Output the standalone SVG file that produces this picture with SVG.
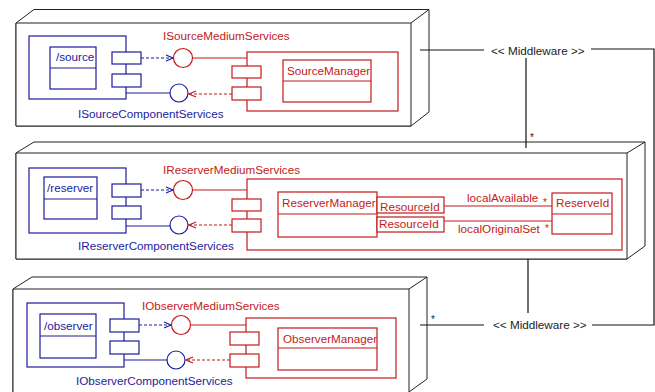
<svg xmlns="http://www.w3.org/2000/svg" width="655" height="392" viewBox="0 0 655 392">
<defs>
<style>
text{font-family:"Liberation Sans",Arial,sans-serif;font-size:11.7px}
.node{fill:#fff;stroke:#222;stroke-width:1}
.b{fill:none;stroke:#1c1c9c;stroke-width:1.2}
.bf{fill:#fff;stroke:#1c1c9c;stroke-width:1.2}
.r{fill:none;stroke:#c41a1a;stroke-width:1.2}
.rf{fill:#fff;stroke:#c41a1a;stroke-width:1.2}
.bd{fill:none;stroke:#1c1c9c;stroke-width:1.2;stroke-dasharray:3,2}
.rd{fill:none;stroke:#c41a1a;stroke-width:1.2;stroke-dasharray:3,2}
.bt{fill:#1c1c9c}
.rt{fill:#c41a1a}
.kt{fill:#222}
.ln{fill:none;stroke:#111;stroke-width:1.2}
</style>
<marker id="ab" markerWidth="10" markerHeight="10" refX="8" refY="4" orient="auto" markerUnits="userSpaceOnUse"><path d="M1,1 L8,4 L1,7" fill="none" stroke="#1c1c9c" stroke-width="1.2"/></marker>
<marker id="ar" markerWidth="10" markerHeight="10" refX="8" refY="4" orient="auto" markerUnits="userSpaceOnUse"><path d="M1,1 L8,4 L1,7" fill="none" stroke="#c41a1a" stroke-width="1.2"/></marker>
</defs>

<g id="node-source">
<path class="node" d="M16,23 L34,9.5 H429 V112 L411,126 H16 Z"/>
<path class="node" d="M16,23 H411 V126 H16 Z"/>
<path class="node" d="M411,23 L429,9.5"/>
<g id="comp-source">
<rect class="bf" x="29" y="36" width="97" height="63"/>
<rect class="bf" x="50" y="47" width="46" height="42"/>
<path class="b" d="M50,68 H96"/>
<text class="bt" x="56" y="61">/source</text>
<rect class="bf" x="112" y="52" width="29" height="12"/>
<rect class="bf" x="112" y="74" width="29" height="13"/>
<path class="b" d="M126,93 H170"/>
<circle class="bf" cx="179" cy="93" r="9"/>
<path class="bd" d="M141,58 H173" marker-end="url(#ab)"/>
</g>
<g id="comp-sourcemanager">
<rect class="rf" x="247" y="52" width="151" height="59"/>
<path class="r" d="M192,58 H247"/>
<circle class="rf" cx="183" cy="58" r="9.5"/>
<rect class="rf" x="232" y="66" width="29" height="12"/>
<rect class="rf" x="232" y="87" width="29" height="13"/>
<path class="rd" d="M232,94 H189" marker-end="url(#ar)"/>
<rect class="rf" x="283" y="60" width="88" height="42"/>
<path class="r" d="M283,81 H371"/>
<text class="rt" x="287" y="75">SourceManager</text>
</g>
<text class="rt" x="163" y="40">ISourceMediumServices</text>
<text class="bt" x="78" y="118">ISourceComponentServices</text>
</g>

<g id="node-reserver">
<path class="node" d="M16,153 L34,142 H645 V246 L627,259 H16 Z"/>
<path class="node" d="M16,153 H627 V259 H16 Z"/>
<path class="node" d="M627,153 L645,142"/>
<g id="comp-reserver">
<rect class="bf" x="29" y="168" width="97" height="65"/>
<rect class="bf" x="44" y="177" width="53" height="42"/>
<path class="b" d="M44,199 H97"/>
<text class="bt" x="47" y="192">/reserver</text>
<rect class="bf" x="112" y="184" width="29" height="13"/>
<rect class="bf" x="112" y="206" width="29" height="13"/>
<path class="b" d="M126,226 H170"/>
<circle class="bf" cx="179" cy="225" r="9"/>
<path class="bd" d="M141,190 H173" marker-end="url(#ab)"/>
</g>
<g id="comp-reservermanager">
<rect class="rf" x="247" y="179" width="375" height="71"/>
<path class="r" d="M192,190 H247"/>
<circle class="rf" cx="183" cy="190" r="9.5"/>
<rect class="rf" x="232" y="199" width="29" height="12"/>
<rect class="rf" x="232" y="219" width="29" height="13"/>
<path class="rd" d="M232,225 H189" marker-end="url(#ar)"/>
<rect class="rf" x="278" y="192" width="99" height="45"/>
<path class="r" d="M278,214 H377"/>
<text class="rt" x="282" y="207">ReserverManager</text>
<rect class="rf" x="377" y="197" width="67" height="16"/>
<rect class="rf" x="377" y="217" width="67" height="15"/>
<text class="rt" x="380" y="211">ResourceId</text>
<text class="rt" x="379" y="228">ResourceId</text>
<path class="r" d="M444,206 H552"/>
<path class="r" d="M444,221 H552"/>
<rect class="rf" x="552" y="193" width="60" height="41"/>
<path class="r" d="M552,214 H612"/>
<text class="rt" x="556" y="207">ReserveId</text>
<text class="rt" x="467" y="202">localAvailable</text>
<text class="rt" x="458" y="233">localOriginalSet</text>
<text class="rt" x="543" y="206" style="font-size:10px">*</text>
<text class="rt" x="545" y="232" style="font-size:10px">*</text>
</g>
<text class="rt" x="163" y="174">IReserverMediumServices</text>
<text class="bt" x="78" y="250">IReserverComponentServices</text>
</g>

<g id="node-observer">
<path class="node" d="M13,289 L32,277 H427 V379 L409,392 V400 H13 Z"/>
<path class="node" d="M13,289 H409 V400 H13 Z"/>
<path class="node" d="M409,289 L427,277"/>
<g id="comp-observer">
<rect class="bf" x="27" y="303" width="97" height="64"/>
<rect class="bf" x="40" y="314" width="56" height="44"/>
<path class="b" d="M40,336 H96"/>
<text class="bt" x="44" y="330">/observer</text>
<rect class="bf" x="110" y="319" width="29" height="13"/>
<rect class="bf" x="110" y="341" width="29" height="13"/>
<path class="b" d="M124,360 H167"/>
<circle class="bf" cx="176" cy="360" r="9"/>
<path class="bd" d="M139,325 H171" marker-end="url(#ab)"/>
</g>
<g id="comp-observermanager">
<rect class="rf" x="246" y="318" width="150" height="60"/>
<path class="r" d="M191,325 H246"/>
<circle class="rf" cx="181" cy="325" r="9.5"/>
<rect class="rf" x="230" y="332" width="29" height="13"/>
<rect class="rf" x="230" y="354" width="29" height="13"/>
<path class="rd" d="M230,360 H186" marker-end="url(#ar)"/>
<rect class="rf" x="278" y="328" width="99" height="42"/>
<path class="r" d="M278,348 H377"/>
<text class="rt" x="283" y="343">ObserverManager</text>
</g>
<text class="rt" x="142" y="310">IObserverMediumServices</text>
<text class="bt" x="76" y="385">IObserverComponentServices</text>
</g>

<g id="connectors">
<path class="ln" d="M420,50 H484"/>
<path class="ln" d="M591,49 H654 V325 H592"/>
<path class="ln" d="M484,325 H420"/>
<path class="ln" d="M526,58 V148"/>
<path class="ln" d="M528,259 V313"/>
<text class="kt" x="491" y="55">&lt;&lt; Middleware &gt;&gt;</text>
<text class="kt" x="493" y="329">&lt;&lt; Middleware &gt;&gt;</text>
<text class="kt" x="530" y="141" style="font-size:10px">*</text>
<text class="kt" x="431" y="323" style="font-size:10px">*</text>
</g>
</svg>
